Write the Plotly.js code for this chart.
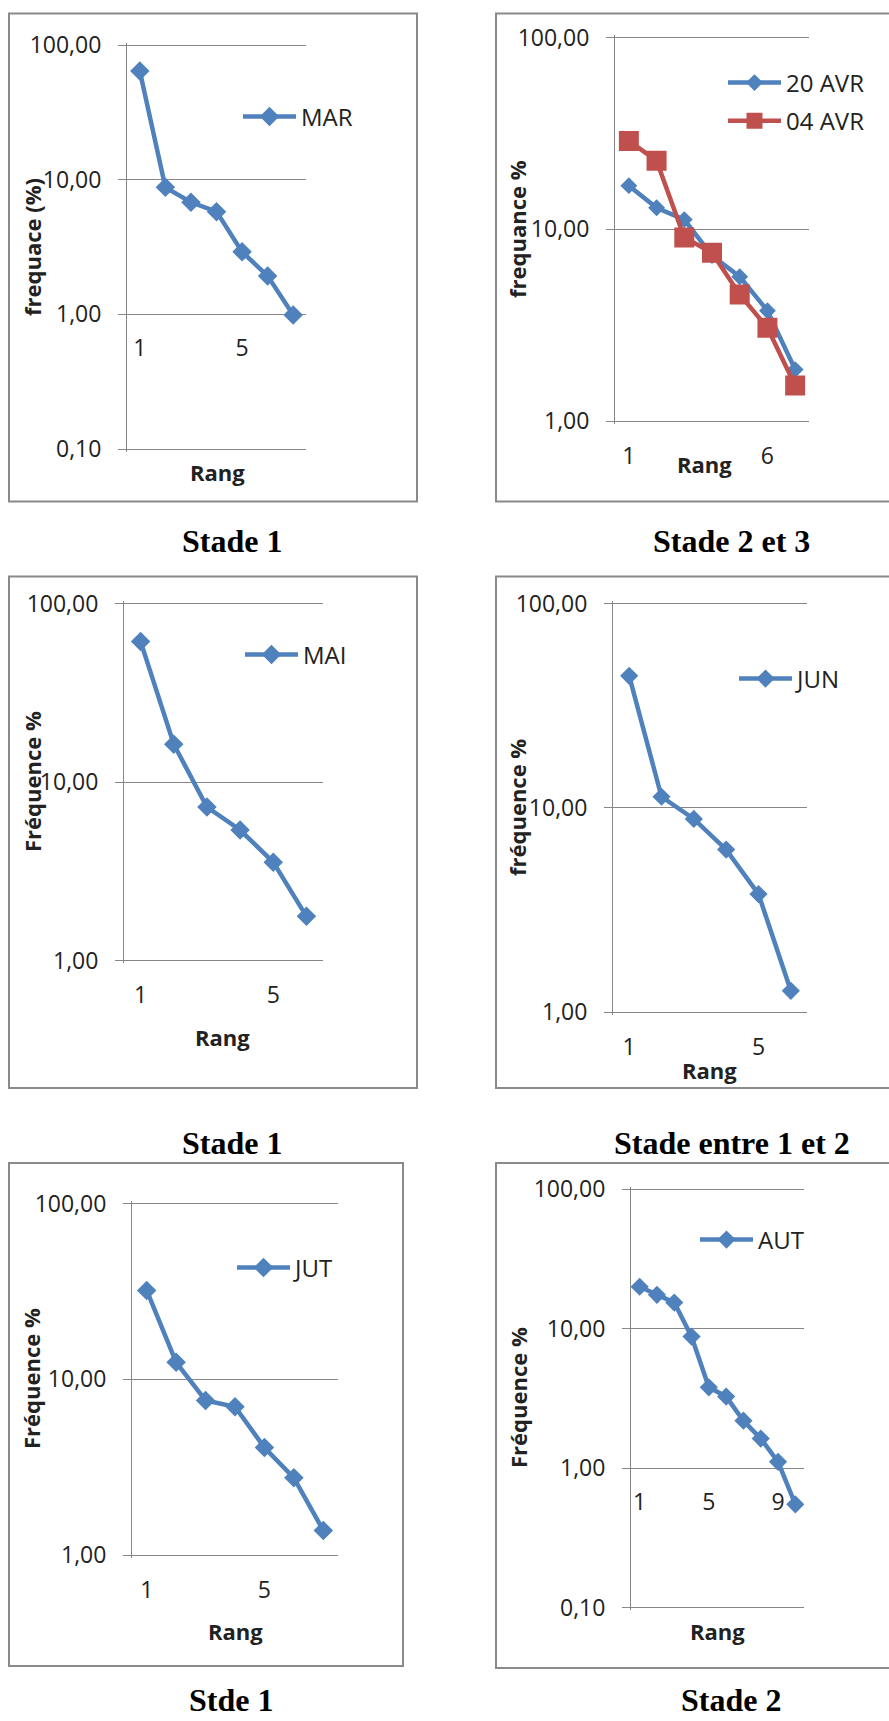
<!DOCTYPE html>
<html><head><meta charset="utf-8">
<script src="https://cdn.plot.ly/plotly-3.0.1.min.js"></script>
<style>html,body{margin:0;padding:0;background:#fff;} #chart{width:889px;height:1721px;}</style>
</head><body><div id="chart"></div>
<script>
// ---------------- data ----------------
const rang7 = [1, 2, 3, 4, 5, 6, 7];
const rang6 = [1, 2, 3, 4, 5, 6];
const rang10 = [1, 2, 3, 4, 5, 6, 7, 8, 9, 10];
const MAR = [64.1, 8.77, 6.79, 5.79, 2.91, 1.93, 0.99];
const AVR20 = [16.9, 12.96, 11.25, 7.3, 5.67, 3.77, 1.86];
const AVR04 = [28.9, 22.8, 9.08, 7.55, 4.58, 3.07, 1.535];
const MAI = [61.4, 16.3, 7.25, 5.39, 3.56, 1.77];
const JUN = [44.3, 11.33, 8.82, 6.24, 3.78, 1.27];
const JUT = [32.1, 12.5, 7.58, 6.98, 4.09, 2.75, 1.38];
const AUT = [20.0, 17.5, 15.4, 8.78, 3.80, 3.26, 2.19, 1.63, 1.11, 0.55];
const yTitles = ['frequace (%)', 'frequance %', 'Fréquence %', 'fréquence %', 'Fréquence %', 'Fréquence %'];
const xTitle = 'Rang';
const captions = ['Stade 1', 'Stade 2 et 3', 'Stade 1', 'Stade entre 1 et 2', 'Stde 1', 'Stade 2'];

// ---------------- styles ----------------
const BLUE = '#4F81BD', RED = '#C0504D', GRID = '#878787', TXT = '#222222';
const FONT = 'Open Sans, Noto Sans, DejaVu Sans, sans-serif';
const W = 889, H = 1721;
const fx = px => px / W;
const fy = py => 1 - py / H;
const EDGE = 2.5; // px of extra room so that the end gridlines are drawn

// panel geometry in page pixels: plot [left, right, top gridline, bottom gridline]
const panels = [
  {plot: [127, 306, 45, 449],       logRange: [-1, 2], n: 7,  dtick: 4, box: [9, 13.6, 417, 501.6],  cap: [232, 541],  yt: [32, 247],   rang: [217, 472],  leg: [243, 117]},
  {plot: [615, 809, 37.5, 421.3],   logRange: [0, 2],  n: 7,  dtick: 5, box: [496, 13.6, 895, 501.6], cap: [731, 541],  yt: [517, 229],  rang: [704, 464],  leg: [728, 102]},
  {plot: [124, 323, 603.6, 960.6],  logRange: [0, 2],  n: 6,  dtick: 4, box: [9, 576.6, 417, 1088],   cap: [232, 1143], yt: [32, 782],   rang: [223, 1037], leg: [245, 655]},
  {plot: [613, 807, 603.6, 1012],   logRange: [0, 2],  n: 6,  dtick: 4, box: [496, 576.6, 895, 1088], cap: [732, 1143], yt: [517, 808],  rang: [709, 1070], leg: [739, 679]},
  {plot: [132, 338, 1203.7, 1555],  logRange: [0, 2],  n: 7,  dtick: 4, box: [9, 1163, 403, 1666],    cap: [231, 1700], yt: [31, 1379],  rang: [235, 1631], leg: [237, 1268]},
  {plot: [631, 804, 1189.3, 1607.6],logRange: [-1, 2], n: 10, dtick: 4, box: [496, 1163, 895, 1668], cap: [731, 1700], yt: [518, 1398], rang: [717, 1631], leg: [700, 1240]}
];

function line(x, y, name, i, color, symbol, size, group) {
  const s = i === 0 ? '' : String(i + 1);
  return {
    type: 'scatter', mode: 'lines+markers', x: x, y: y, name: name,
    xaxis: 'x' + s, yaxis: 'y' + s, legend: 'legend' + s, legendgroup: group || name,
    line: {color: color, width: 4.5},
    marker: {symbol: symbol, size: size, color: color, line: {width: 0}},
    hoverinfo: 'x+y'
  };
}

const data = [
  line(rang7, MAR, 'MAR', 0, BLUE, 'diamond', 15),
  line(rang7, AVR20, '20 AVR', 1, BLUE, 'diamond', 13, 'g1'),
  line(rang7, AVR04, '04 AVR', 1, RED, 'square', 20, 'g2'),
  line(rang6, MAI, 'MAI', 2, BLUE, 'diamond', 15),
  line(rang6, JUN, 'JUN', 3, BLUE, 'diamond', 14),
  line(rang7, JUT, 'JUT', 4, BLUE, 'diamond', 15),
  line(rang10, AUT, 'AUT', 5, BLUE, 'diamond', 14)
];

const layout = {
  width: W, height: H, margin: {l: 0, r: 0, t: 0, b: 0},
  paper_bgcolor: '#ffffff', plot_bgcolor: 'rgba(0,0,0,0)',
  separators: ', ', showlegend: true, font: {family: FONT, color: TXT},
  shapes: [], annotations: []
};

panels.forEach((p, i) => {
  const s = i === 0 ? '' : String(i + 1);
  const decadePx = (p.plot[3] - p.plot[2]) / (p.logRange[1] - p.logRange[0]);
  const padDec = EDGE / decadePx;
  const yRange = [p.logRange[0] - padDec, p.logRange[1] + padDec];
  const yDom = [fy(p.plot[3] + EDGE), fy(p.plot[2] - EDGE)];
  const xDom = [fx(p.plot[0]), fx(p.plot[1])];
  const xa = {
    domain: xDom, range: [0.5, p.n + 0.5], tick0: 1, dtick: p.dtick,
    showgrid: false, zeroline: false, showline: false, ticks: '',
    tickfont: {size: 23, family: FONT, color: TXT},
    fixedrange: true
  };
  if (p.logRange[0] < 0) {
    // horizontal axis crosses the log axis at 1
    xa.anchor = 'free';
    xa.position = yDom[0] + (0 - yRange[0]) / (yRange[1] - yRange[0]) * (yDom[1] - yDom[0]);
    xa.ticklabelstandoff = 18;
  } else {
    xa.anchor = 'y' + s;
    xa.ticklabelstandoff = 16;
  }
  layout['xaxis' + s] = xa;
  layout['yaxis' + s] = {
    domain: yDom, anchor: 'x' + s, type: 'log', range: yRange, tick0: 0, dtick: 1,
    tickformat: '.2f', showgrid: true, gridcolor: GRID, gridwidth: 1,
    showline: true, linecolor: GRID, linewidth: 1, zeroline: false,
    ticks: 'outside', ticklen: 8, tickcolor: GRID, tickwidth: 1,
    tickfont: {size: 23, family: FONT, color: TXT}, ticklabelstandoff: 12,
    fixedrange: true
  };
  layout['legend' + s] = {
    x: fx(p.leg[0] - 5), y: fy(p.leg[1]), xanchor: 'left', yanchor: 'middle',
    font: {size: 24, family: FONT, color: TXT}, bgcolor: 'rgba(0,0,0,0)',
    borderwidth: 0, itemwidth: 53, tracegroupgap: 4
  };
  layout.shapes.push({
    type: 'rect', xref: 'paper', yref: 'paper', layer: 'below',
    x0: fx(p.box[0]), x1: fx(p.box[2]), y0: fy(p.box[3]), y1: fy(p.box[1]),
    line: {color: '#8a8a8a', width: 2}, fillcolor: 'rgba(0,0,0,0)'
  });
  layout.annotations.push({
    text: yTitles[i], textangle: -90, xref: 'paper', yref: 'paper',
    x: fx(p.yt[0]), y: fy(p.yt[1]), xanchor: 'center', yanchor: 'middle', showarrow: false,
    font: {size: 22, family: FONT, color: TXT, weight: 'bold'}
  });
  layout.annotations.push({
    text: xTitle, xref: 'paper', yref: 'paper',
    x: fx(p.rang[0]), y: fy(p.rang[1]), xanchor: 'center', yanchor: 'middle', showarrow: false,
    font: {size: 22, family: FONT, color: TXT, weight: 'bold'}
  });
  layout.annotations.push({
    text: '<b>' + captions[i] + '</b>', xref: 'paper', yref: 'paper',
    x: fx(p.cap[0]), y: fy(p.cap[1]), xanchor: 'center', yanchor: 'middle', showarrow: false,
    borderpad: 0,
    font: {size: 32, family: 'Liberation Serif, Times New Roman, serif', color: '#000000'}
  });
});

Plotly.newPlot('chart', data, layout, {displayModeBar: false, responsive: false});
</script>
</body></html>
